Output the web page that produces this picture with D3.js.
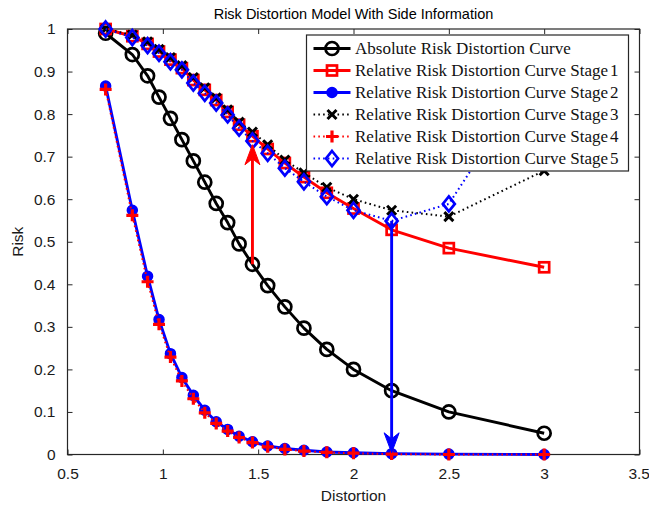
<!DOCTYPE html>
<html>
<head>
<meta charset="utf-8">
<script src="https://cdn.jsdelivr.net/npm/d3@7/dist/d3.min.js"></script>
<style>
  body { margin: 0; background: #fff; }
  svg { display: block; }
</style>
</head>
<body>
<svg id="chart" width="649" height="512"></svg>
<script>
// ---------- DATA ----------
const distortion = [0.7, 0.84, 0.92, 0.98, 1.04, 1.1, 1.16, 1.22, 1.28, 1.34, 1.4, 1.47, 1.55, 1.64, 1.74, 1.86, 2.0, 2.2, 2.5, 3.0];
const absoluteRisk = [0.99, 0.94, 0.89, 0.84, 0.79, 0.74, 0.69, 0.64, 0.59, 0.545, 0.495, 0.447, 0.397, 0.347, 0.297, 0.247, 0.2, 0.15, 0.1, 0.05];
const stage1Risk = [1.0, 0.983, 0.965, 0.947, 0.928, 0.908, 0.88, 0.857, 0.833, 0.805, 0.775, 0.748, 0.718, 0.685, 0.652, 0.615, 0.578, 0.528, 0.485, 0.44];
const stage2Risk = [0.866, 0.574, 0.419, 0.317, 0.237, 0.181, 0.139, 0.104, 0.077, 0.059, 0.043, 0.03, 0.02, 0.014, 0.01, 0.006, 0.004, 0.002, 0.001, 0.0];
const stage3Risk = [1.0, 0.986, 0.97, 0.952, 0.933, 0.914, 0.886, 0.862, 0.838, 0.81, 0.781, 0.758, 0.728, 0.692, 0.662, 0.628, 0.6, 0.574, 0.559, 0.667];
const stage4Risk = [0.858, 0.562, 0.406, 0.306, 0.229, 0.173, 0.131, 0.098, 0.073, 0.055, 0.04, 0.028, 0.018, 0.012, 0.008, 0.005, 0.003, 0.001, 0.0, 0.0];
const stage5Risk = [1.0, 0.98, 0.961, 0.943, 0.923, 0.904, 0.873, 0.849, 0.826, 0.798, 0.767, 0.737, 0.708, 0.673, 0.641, 0.606, 0.574, 0.549, 0.589, 0.93];
const xTicks = [0.5, 1, 1.5, 2, 2.5, 3, 3.5];
const yTicks = [0, 0.1, 0.2, 0.3, 0.4, 0.5, 0.6, 0.7, 0.8, 0.9, 1];
const legendLabels = [
  "Absolute Risk Distortion Curve",
  "Relative Risk Distortion Curve Stage",
  "Relative Risk Distortion Curve Stage",
  "Relative Risk Distortion Curve Stage",
  "Relative Risk Distortion Curve Stage",
  "Relative Risk Distortion Curve Stage"
];
const legendNums = ["", "1", "2", "3", "4", "5"];
// arrows: [x, fromY, toY]
const upArrow = [1.47, 0.447, 0.728];
const downArrow = [2.2, 0.549, 0.004];

// ---------- SETUP ----------
const svg = d3.select("#chart");
const L = 67.5, R = 639.5, T = 29, B = 454.5;
const x = d3.scaleLinear().domain([0.5, 3.5]).range([L, R]);
const y = d3.scaleLinear().domain([0, 1]).range([B, T]);
const axisColor = "#262626";

// title
svg.append("text").attr("x", (L + R) / 2).attr("y", 19)
  .attr("text-anchor", "middle").attr("font-family", "Liberation Sans, Arial, sans-serif")
  .attr("font-size", 14.5).attr("fill", "#000")
  .text("Risk Distortion Model With Side Information");

// axes
const tickFont = "Liberation Sans, Arial, sans-serif";
const xAxisB = svg.append("g").attr("transform", `translate(0,${B})`)
  .call(d3.axisBottom(x).tickValues(xTicks).tickSizeInner(-5).tickSizeOuter(0).tickPadding(13).tickFormat(d3.format("")));
const xAxisT = svg.append("g").attr("transform", `translate(0,${T})`)
  .call(d3.axisTop(x).tickValues(xTicks).tickSizeInner(-5).tickSizeOuter(0).tickFormat(""));
const yAxisL = svg.append("g").attr("transform", `translate(${L},0)`)
  .call(d3.axisLeft(y).tickValues(yTicks).tickSizeInner(-5).tickSizeOuter(0).tickPadding(12).tickFormat(d3.format("")));
const yAxisR = svg.append("g").attr("transform", `translate(${R},0)`)
  .call(d3.axisRight(y).tickValues(yTicks).tickSizeInner(-5).tickSizeOuter(0).tickFormat(""));
[xAxisB, xAxisT, yAxisL, yAxisR].forEach(g => {
  g.select(".domain").remove();
  g.selectAll("line").attr("stroke", axisColor).attr("stroke-width", 1);
  g.selectAll("text").attr("font-family", tickFont).attr("font-size", 15.5).attr("fill", "#1a1a1a");
});
// keep the last x tick label inside the picture
xAxisB.selectAll(".tick text").filter(d => d === 3.5).attr("text-anchor", "end").attr("dx", 10);
svg.append("rect").attr("x", L).attr("y", T).attr("width", R - L).attr("height", B - T)
  .attr("fill", "none").attr("stroke", axisColor).attr("stroke-width", 1.2);

// axis labels
svg.append("text").attr("x", (L + R) / 2).attr("y", 501).attr("text-anchor", "middle")
  .attr("font-family", tickFont).attr("font-size", 15.5).attr("fill", "#1a1a1a").text("Distortion");
svg.append("text").attr("transform", `translate(23,${(T + B) / 2}) rotate(-90)`).attr("text-anchor", "middle")
  .attr("font-family", tickFont).attr("font-size", 15.5).attr("fill", "#1a1a1a").text("Risk");

// ---------- MARKERS ----------
function marker(g, type, color) {
  switch (type) {
    case "circle":
      return g.append("circle").attr("r", 6.5).attr("fill", "none").attr("stroke", color).attr("stroke-width", 2.7);
    case "square":
      return g.append("rect").attr("x", -5).attr("y", -5).attr("width", 10).attr("height", 10)
        .attr("fill", "none").attr("stroke", color).attr("stroke-width", 2.7);
    case "dot":
      return g.append("circle").attr("r", 5).attr("fill", color).attr("stroke", color).attr("stroke-width", 1.5);
    case "x":
      return g.append("path").attr("d", "M-4.5,-4.5L4.5,4.5M-4.5,4.5L4.5,-4.5")
        .attr("stroke", color).attr("stroke-width", 3).attr("fill", "none");
    case "plus":
      return g.append("path").attr("d", "M-6,0L6,0M0,-6L0,6")
        .attr("stroke", color).attr("stroke-width", 3.2).attr("fill", "none");
    case "diamond":
      return g.append("path").attr("d", "M0,-7.5L6,0L0,7.5L-6,0Z")
        .attr("stroke", color).attr("stroke-width", 2.7).attr("fill", "none");
  }
}

const series = [
  { vals: absoluteRisk, color: "#000", dash: null, width: 2.9, mk: "circle" },
  { vals: stage1Risk, color: "#ff0000", dash: null, width: 2.9, mk: "square" },
  { vals: stage2Risk, color: "#0000ff", dash: null, width: 2.9, mk: "dot" },
  { vals: stage3Risk, color: "#000", dash: "1.6,3.2", width: 2, mk: "x" },
  { vals: stage4Risk, color: "#ff0000", dash: "1.6,3.2", width: 2, mk: "plus" },
  { vals: stage5Risk, color: "#0000ff", dash: "1.6,3.2", width: 2, mk: "diamond" }
];

const line = d3.line().x(d => x(d[0])).y(d => y(d[1]));
const plot = svg.append("g");
series.forEach(s => {
  const pts = distortion.map((d, i) => [d, s.vals[i]]);
  plot.append("path").datum(pts).attr("d", line).attr("fill", "none")
    .attr("stroke", s.color).attr("stroke-width", s.width)
    .attr("stroke-dasharray", s.dash).attr("stroke-linejoin", "round");
  pts.forEach(p => {
    const g = plot.append("g").attr("transform", `translate(${x(p[0])},${y(p[1])})`);
    marker(g, s.mk, s.color);
  });
});

// ---------- ARROWS ----------
function arrow(spec, color) {
  const [ax, y0, y1] = spec;
  const px = x(ax), py0 = y(y0), py1 = y(y1);
  const dir = py1 < py0 ? -1 : 1;
  const headLen = 20, headW = 7.5, notch = 14;
  plot.append("line").attr("x1", px).attr("x2", px).attr("y1", py0).attr("y2", py1 - dir * notch)
    .attr("stroke", color).attr("stroke-width", 2.9);
  plot.append("path")
    .attr("d", `M${px},${py1}L${px - headW},${py1 - dir * headLen}L${px},${py1 - dir * notch}L${px + headW},${py1 - dir * headLen}Z`)
    .attr("fill", color).attr("stroke", color).attr("stroke-width", 1);
}
arrow(upArrow, "#ff0000");
arrow(downArrow, "#0000ff");

// ---------- LEGEND ----------
const lg = svg.append("g");
const lx = 306.5, ly = 35, lw = 322, lh = 136;
lg.append("rect").attr("x", lx).attr("y", ly).attr("width", lw).attr("height", lh)
  .attr("fill", "#fff").attr("stroke", axisColor).attr("stroke-width", 1.2);
const rowY = d3.scaleLinear().domain([0, 5]).range([ly + 13.5, ly + 123.5]);
series.forEach((s, i) => {
  const ry = rowY(i);
  lg.append("line").attr("x1", lx + 7).attr("x2", lx + 44).attr("y1", ry).attr("y2", ry)
    .attr("stroke", s.color).attr("stroke-width", s.width).attr("stroke-dasharray", s.dash);
  const g = lg.append("g").attr("transform", `translate(${lx + 25.5},${ry})`);
  marker(g, s.mk, s.color);
  const t = lg.append("text").attr("x", lx + 48.5).attr("y", ry + 5.5)
    .attr("font-family", "Liberation Serif, Times New Roman, serif").attr("font-size", 17).attr("fill", "#111");
  t.append("tspan").text(legendLabels[i]);
  if (legendNums[i]) t.append("tspan").attr("dx", 2).text(legendNums[i]);
});
</script>
</body>
</html>
